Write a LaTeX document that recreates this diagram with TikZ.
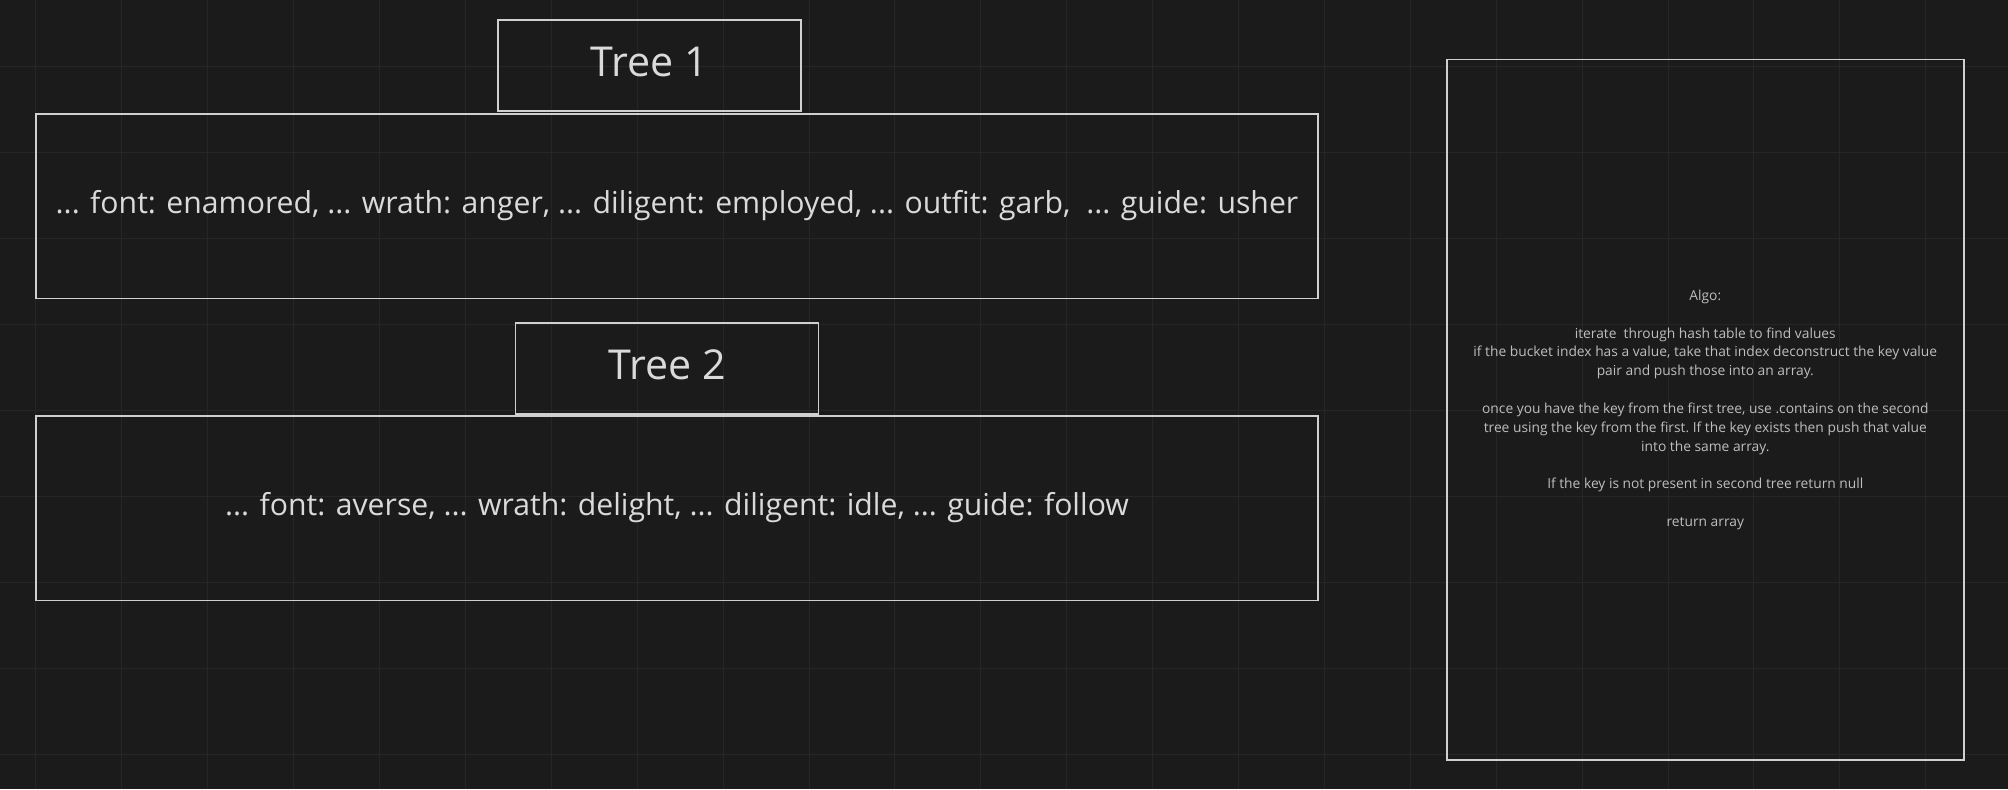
\documentclass[tikz,border=0pt]{standalone}
\usepackage{fontspec}
\setmainfont{Open Sans}
\usetikzlibrary{positioning}
\definecolor{canvas}{RGB}{27,27,27}
\definecolor{gridline}{RGB}{38,38,38}
\definecolor{boxline}{RGB}{208,208,208}
\definecolor{inktext}{RGB}{218,218,218}
\definecolor{notetext}{RGB}{190,190,190}

\begin{document}
\begin{tikzpicture}[
    x=0.5pt, y=-0.5pt,
    card/.style={
        draw=boxline, line width=0.8pt, rectangle,
        inner sep=0pt, outer sep=0pt, align=center,
        text=inktext
    },
    titlecard/.style={
        card, minimum width=151.5pt, minimum height=45.5pt,
        text depth=3.5pt, font=\fontsize{20.6}{25}\selectfont
    },
    pairscard/.style={
        card, minimum width=641.2pt, minimum height=92.3pt,
        font=\fontsize{15.1}{18}\selectfont
    },
    notecard/.style={
        card, minimum width=258.6pt, minimum height=350.4pt,
        text=notetext, font=\fontsize{6.9}{9.4}\selectfont\frenchspacing
    },
]

% ── Canvas ──
\fill[canvas] (0,0) rectangle (2008,789);
\useasboundingbox (0,0) rectangle (2008,789);
\foreach \gx in {0,...,22}
    \draw[gridline, line width=0.5pt] (35.9+85.9*\gx,0) -- (35.9+85.9*\gx,789);
\foreach \gy in {0,...,8}
    \draw[gridline, line width=0.5pt] (0,66.8+85.9*\gy) -- (2008,66.8+85.9*\gy);

% ── Tree 1 ──
\node[pairscard] (pairsone) at (677,206) {%
    ... font: enamored, ... wrath: anger, ... diligent: employed, ... outfit: garb, \ ... guide: usher};
\node[titlecard, above=1.3pt of pairsone, xshift=-13.75pt] (treeone) {Tree 1};

% ── Tree 2 ──
\node[titlecard, below=12.2pt of pairsone, xshift=-5pt] (treetwo) {Tree 2};
\node[pairscard, below=58.7pt of pairsone] (pairstwo) {%
    ... font: averse, ... wrath: delight, ... diligent: idle, ... guide: follow};

% ── Algo note ──
\node[notecard] (algo) at (1705.3,409.8) {%
    Algo:\\[9.4pt]
    iterate \ through hash table to find values\\
    if the bucket index has a value, take that index deconstruct the key value\\
    pair and push those into an array.\\[9.4pt]
    once you have the key from the first tree, use .contains on the second\\
    tree using the key from the first. If the key exists then push that value\\
    into the same array.\\[9.4pt]
    If the key is not present in second tree return null\\[9.4pt]
    return array};

\end{tikzpicture}
\end{document}
